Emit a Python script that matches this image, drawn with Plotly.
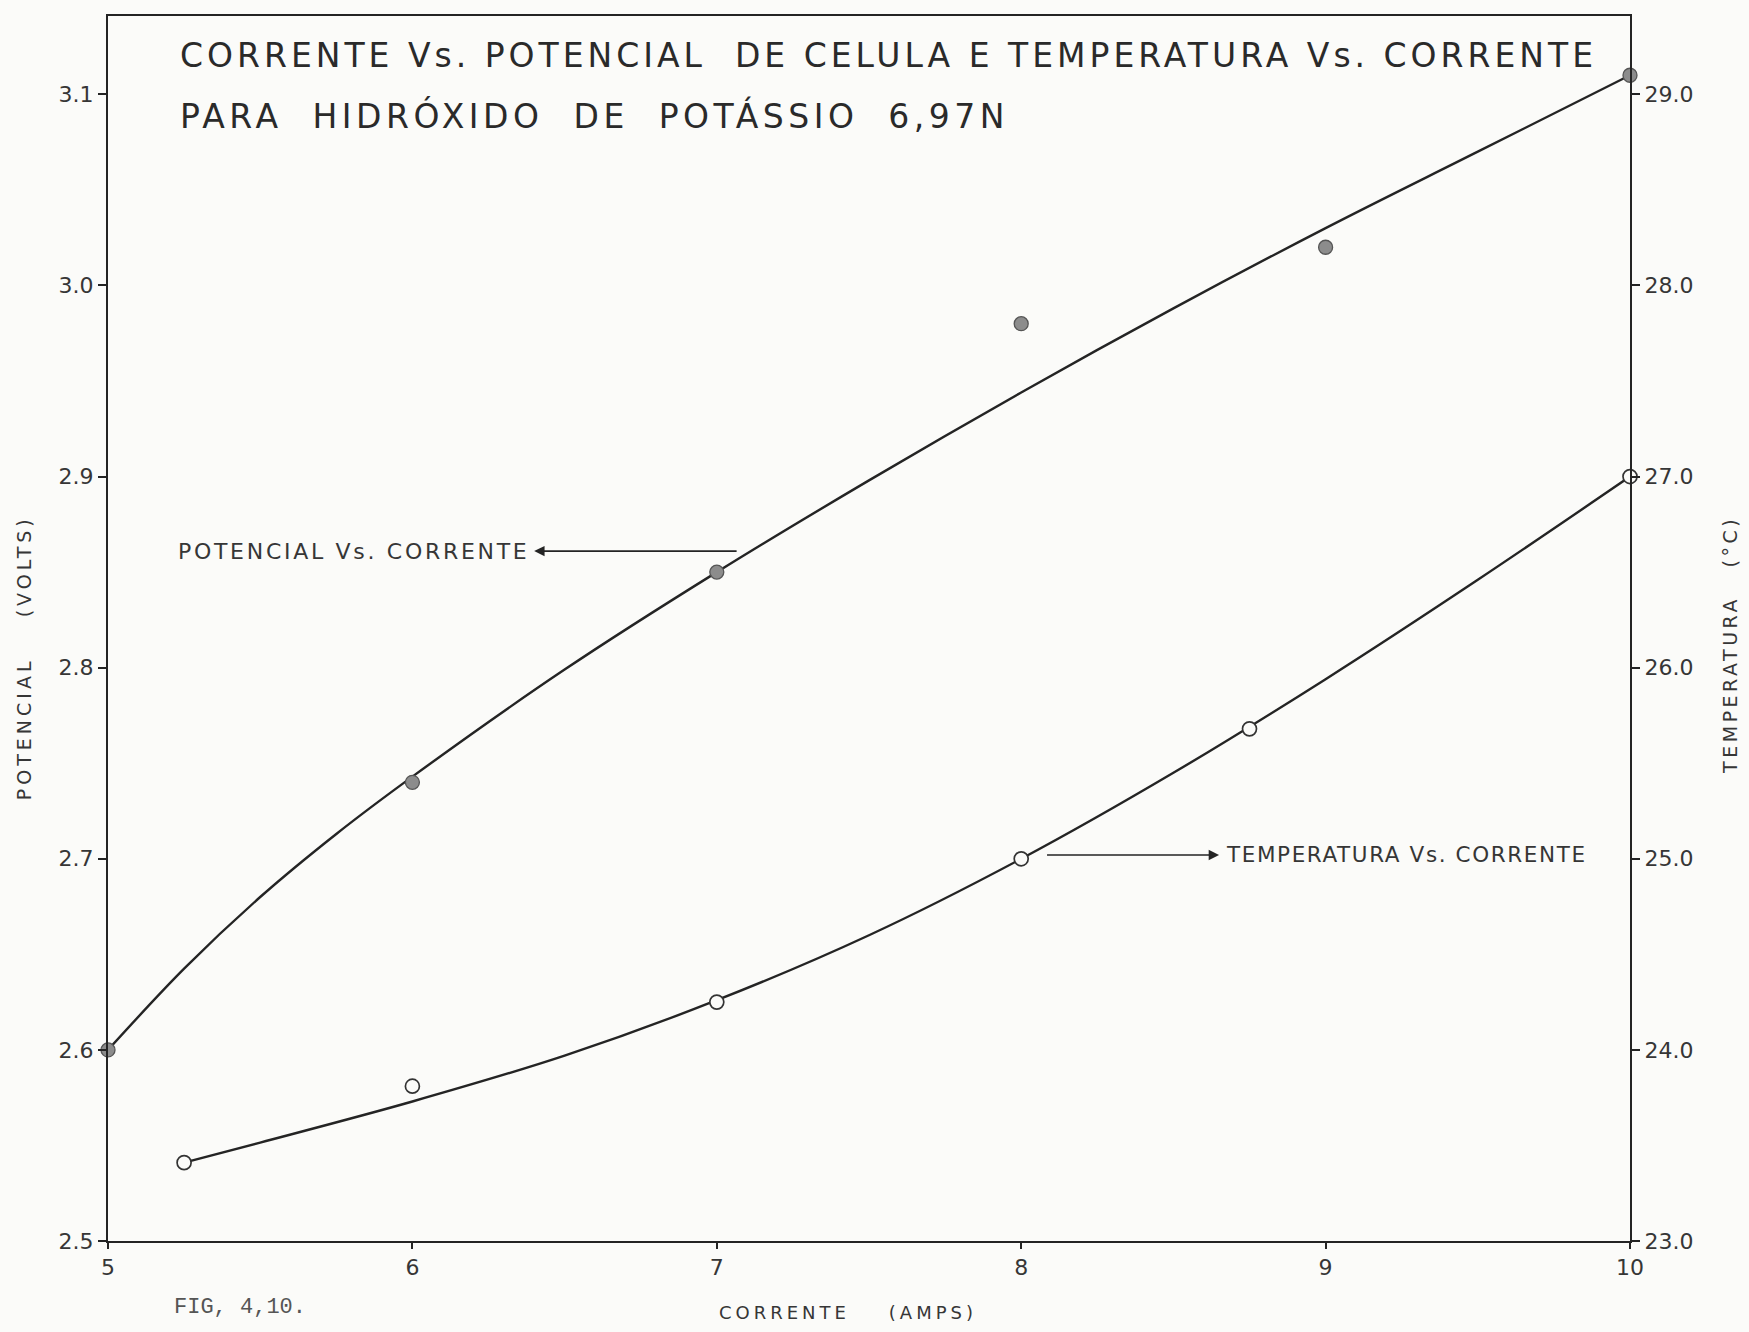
import plotly.graph_objects as go

# ---- data ----
current_pts = [5, 6, 7, 8, 9, 10]
potential_pts = [2.60, 2.74, 2.85, 2.98, 3.02, 3.11]

temp_current_pts = [5.25, 6, 7, 8, 8.75, 10]
temperature_pts = [23.41, 23.81, 24.25, 25.0, 25.68, 27.0]

# smooth hand-drawn fitted curves
pot_curve_x = [5, 5.25, 5.5, 5.75, 6, 6.5, 7, 7.5, 8, 8.5, 9, 9.5, 10]
pot_curve_y = [2.600, 2.6425, 2.680, 2.713, 2.743, 2.799, 2.850, 2.898, 2.944, 2.988, 3.030, 3.070, 3.110]
temp_curve_x = [5.25, 5.5, 6, 6.5, 7, 7.5, 8, 8.5, 9, 9.5, 10]
temp_curve_y = [23.41, 23.515, 23.73, 23.97, 24.26, 24.60, 25.00, 25.45, 25.94, 26.46, 27.0]

x_ticks = [5, 6, 7, 8, 9, 10]
x_ticktext = ["5", "6", "7", "8", "9", "10"]
v_ticks = [2.5, 2.6, 2.7, 2.8, 2.9, 3.0, 3.1]
v_ticktext = ["2.5", "2.6", "2.7", "2.8", "2.9", "3.0", "3.1"]
t_ticks = [23, 24, 25, 26, 27, 28, 29]
t_ticktext = ["23.0", "24.0", "25.0", "26.0", "27.0", "28.0", "29.0"]

INK = "#242424"
TXT = "#363636"
BG = "#fbfbf9"
SANS = "DejaVu Sans"

def spaced(s, px):
    return f"<span style='letter-spacing:{px}px'>{s}</span>"

fig = go.Figure()

fig.add_trace(go.Scatter(x=pot_curve_x, y=pot_curve_y, mode="lines",
                         line=dict(color=INK, width=2.4, shape="spline", smoothing=1.0),
                         hoverinfo="skip", showlegend=False, cliponaxis=False))
fig.add_trace(go.Scatter(x=current_pts, y=potential_pts, mode="markers",
                         marker=dict(size=14, color="#8c8c8c", line=dict(color="#555", width=1.3)),
                         showlegend=False, cliponaxis=False))

fig.add_trace(go.Scatter(x=temp_curve_x, y=temp_curve_y, mode="lines", yaxis="y2",
                         line=dict(color=INK, width=2.4, shape="spline", smoothing=1.0),
                         hoverinfo="skip", showlegend=False, cliponaxis=False))
fig.add_trace(go.Scatter(x=temp_current_pts, y=temperature_pts, mode="markers", yaxis="y2",
                         marker=dict(size=14, color=BG, line=dict(color="#333", width=1.7)),
                         showlegend=False, cliponaxis=False))

axis_common = dict(showline=True, linecolor=INK, linewidth=2, showgrid=False, zeroline=False,
                   ticks="outside", tickcolor=INK, tickwidth=1.5,
                   tickfont=dict(family=SANS, size=22, color=TXT))

fig.update_layout(
    width=1749, height=1332,
    margin=dict(l=108, r=119, t=16, b=91),
    paper_bgcolor=BG, plot_bgcolor=BG,
    xaxis=dict(range=[5, 10], tickvals=x_ticks, ticktext=x_ticktext, mirror=True,
               ticklen=6, **axis_common),
    yaxis=dict(range=[2.5, 3.141], tickvals=v_ticks, ticktext=v_ticktext,
               ticklen=8, **axis_common),
    yaxis2=dict(range=[23, 29.41], tickvals=t_ticks, ticktext=t_ticktext,
                overlaying="y", side="right", ticklen=8, **axis_common),
)

annos = []
# title
annos.append(dict(xref="paper", yref="paper", x=0.046, y=0.968, xanchor="left", yanchor="middle",
                  text=spaced("CORRENTE Vs. POTENCIAL  DE CELULA E TEMPERATURA Vs. CORRENTE", 4),
                  showarrow=False, font=dict(family=SANS, size=33, color="#2a2a2a")))
annos.append(dict(xref="paper", yref="paper", x=0.046, y=0.918, xanchor="left", yanchor="middle",
                  text=spaced("PARA  HIDRÓXIDO  DE  POTÁSSIO  6,97N", 4.5),
                  showarrow=False, font=dict(family=SANS, size=33, color="#2a2a2a")))
# series labels with arrows
annos.append(dict(xref="x", yref="y", axref="x", ayref="y", x=6.40, y=2.861, ax=7.07, ay=2.861,
                  text="", showarrow=True, arrowhead=2, arrowsize=1.3, arrowwidth=1.6, arrowcolor=INK))
annos.append(dict(xref="x", yref="y", x=6.39, y=2.861, xanchor="right", yanchor="middle",
                  text=spaced("POTENCIAL Vs. CORRENTE", 2.7), showarrow=False,
                  font=dict(family=SANS, size=22, color=TXT)))
annos.append(dict(xref="x", yref="y2", axref="x", ayref="y2", x=8.65, y=25.02, ax=8.08, ay=25.02,
                  text="", showarrow=True, arrowhead=2, arrowsize=1.3, arrowwidth=1.6, arrowcolor=INK))
annos.append(dict(xref="x", yref="y2", x=8.665, y=25.02, xanchor="left", yanchor="middle",
                  text=spaced("TEMPERATURA Vs. CORRENTE", 1.6), showarrow=False,
                  font=dict(family=SANS, size=21.5, color=TXT)))
# axis titles
annos.append(dict(xref="paper", yref="paper", x=0.486, y=-0.058, xanchor="center", yanchor="middle",
                  text=spaced("CORRENTE    (AMPS)", 4), showarrow=False,
                  font=dict(family=SANS, size=18, color=TXT)))
annos.append(dict(xref="paper", yref="paper", x=-0.055, y=0.476, xanchor="center", yanchor="middle",
                  text=spaced("POTENCIAL    (VOLTS)", 4), textangle=-90, showarrow=False,
                  font=dict(family=SANS, size=19, color=TXT)))
annos.append(dict(xref="paper", yref="paper", x=1.066, y=0.487, xanchor="center", yanchor="middle",
                  text=spaced("TEMPERATURA   (°C)", 3.5), textangle=-90, showarrow=False,
                  font=dict(family=SANS, size=19, color=TXT)))
annos.append(dict(xref="paper", yref="paper", x=0.042, y=-0.054, xanchor="left", yanchor="middle",
                  text="FIG, 4,10.", showarrow=False,
                  font=dict(family="Liberation Mono", size=22, color="#555")))
fig.update_layout(annotations=annos)

fig.write_html("out.html", config={"displayModeBar": False},
               post_script="document.body.style.margin='0';document.body.style.overflow='hidden';")
